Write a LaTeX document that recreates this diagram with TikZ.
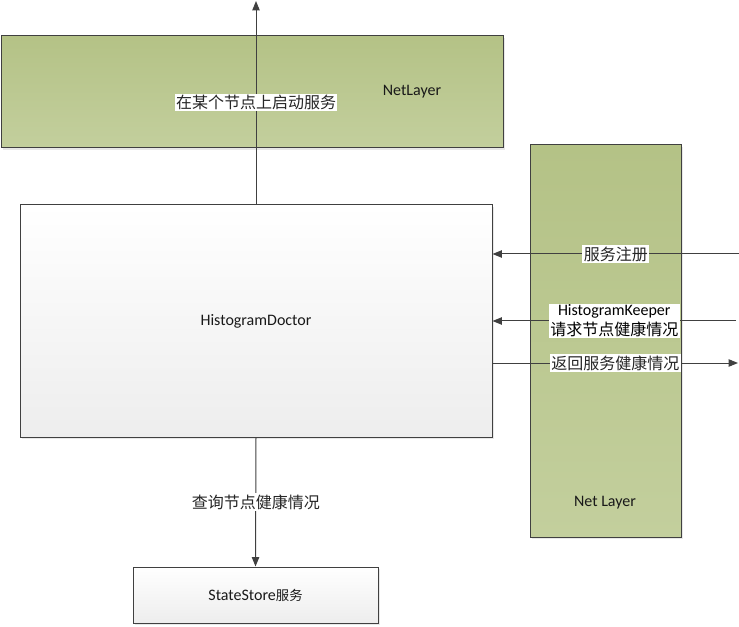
\documentclass[tikz,border=0pt]{standalone}
\usepackage{fontspec}
\setmainfont{Carlito}
\newfontfamily\cjk{Noto Sans CJK SC}
\usetikzlibrary{arrows.meta,shadows}
\definecolor{linec}{HTML}{404040}
\definecolor{greentop}{HTML}{B4C286}
\definecolor{greenbot}{HTML}{C3CF9D}
\tikzset{
  greenbox/.style={draw=linec, line width=0.75pt, top color=greentop, bottom color=greenbot,
    drop shadow={shadow xshift=1.5pt, shadow yshift=-1.5pt, fill=black!18}},
  whitebox/.style={draw=linec, line width=0.75pt, top color=white, bottom color=black!7,
    drop shadow={shadow xshift=1.5pt, shadow yshift=-1.5pt, fill=black!18}},
  latin/.style={font=\fontsize{12}{15}\selectfont, text=black!90},
  cnlabel/.style={font=\cjk\fontsize{12}{15}\selectfont, fill=white, inner sep=1pt, text=black!85},
  conn/.style={draw=linec, line width=0.75pt, -{Triangle[length=7pt,width=5.5pt]}},
}
\begin{document}
\begin{tikzpicture}[x=0.75pt,y=-0.75pt]
\useasboundingbox (0,0) rectangle (739,627);
% boxes
\node[greenbox, minimum width=376.5pt, minimum height=84pt, inner sep=0pt] (top) at (252,92) {};
\node[latin] (toplabel) at (412,92) {NetLayer};
\node[greenbox, minimum width=113.25pt, minimum height=294pt, inner sep=0pt] (right) at (605.5,341) {};
\node[latin] (rightlabel) at (605,503) {Net Layer};
\node[whitebox, minimum width=354pt, minimum height=174pt, latin] (hd) at (256,321) {HistogramDoctor};
\node[whitebox, minimum width=183.75pt, minimum height=42pt, latin] (ss) at (255.5,595) {StateStore{\cjk\fontsize{10}{12}\selectfont 服务}};
% free ends
\coordinate (upend) at (256,1);
\coordinate (r1) at (739,254);
\coordinate (r2) at (736,321);
\coordinate (r3) at (738,363);
% connectors
\draw[conn] (hd.north) -- (upend) node[midway, cnlabel] (l0) {在某个节点上启动服务};
\draw[conn] (r1) -- (hd.east |- r1) node[midway, cnlabel] (l1) {服务注册};
\draw[conn] (r2) -- (hd.east) node[midway, fill=white, inner sep=1pt, align=center, font=\fontsize{12}{15}\selectfont] (l2) {HistogramKeeper\\{\cjk\fontsize{12}{15}\selectfont 请求节点健康情况}};
\draw[conn] (hd.east |- r3) -- (r3) node[midway, cnlabel] (l3) {返回服务健康情况};
\draw[conn] (hd.south) -- (ss.north) node[midway, cnlabel] (l4) {查询节点健康情况};
\end{tikzpicture}
\end{document}
